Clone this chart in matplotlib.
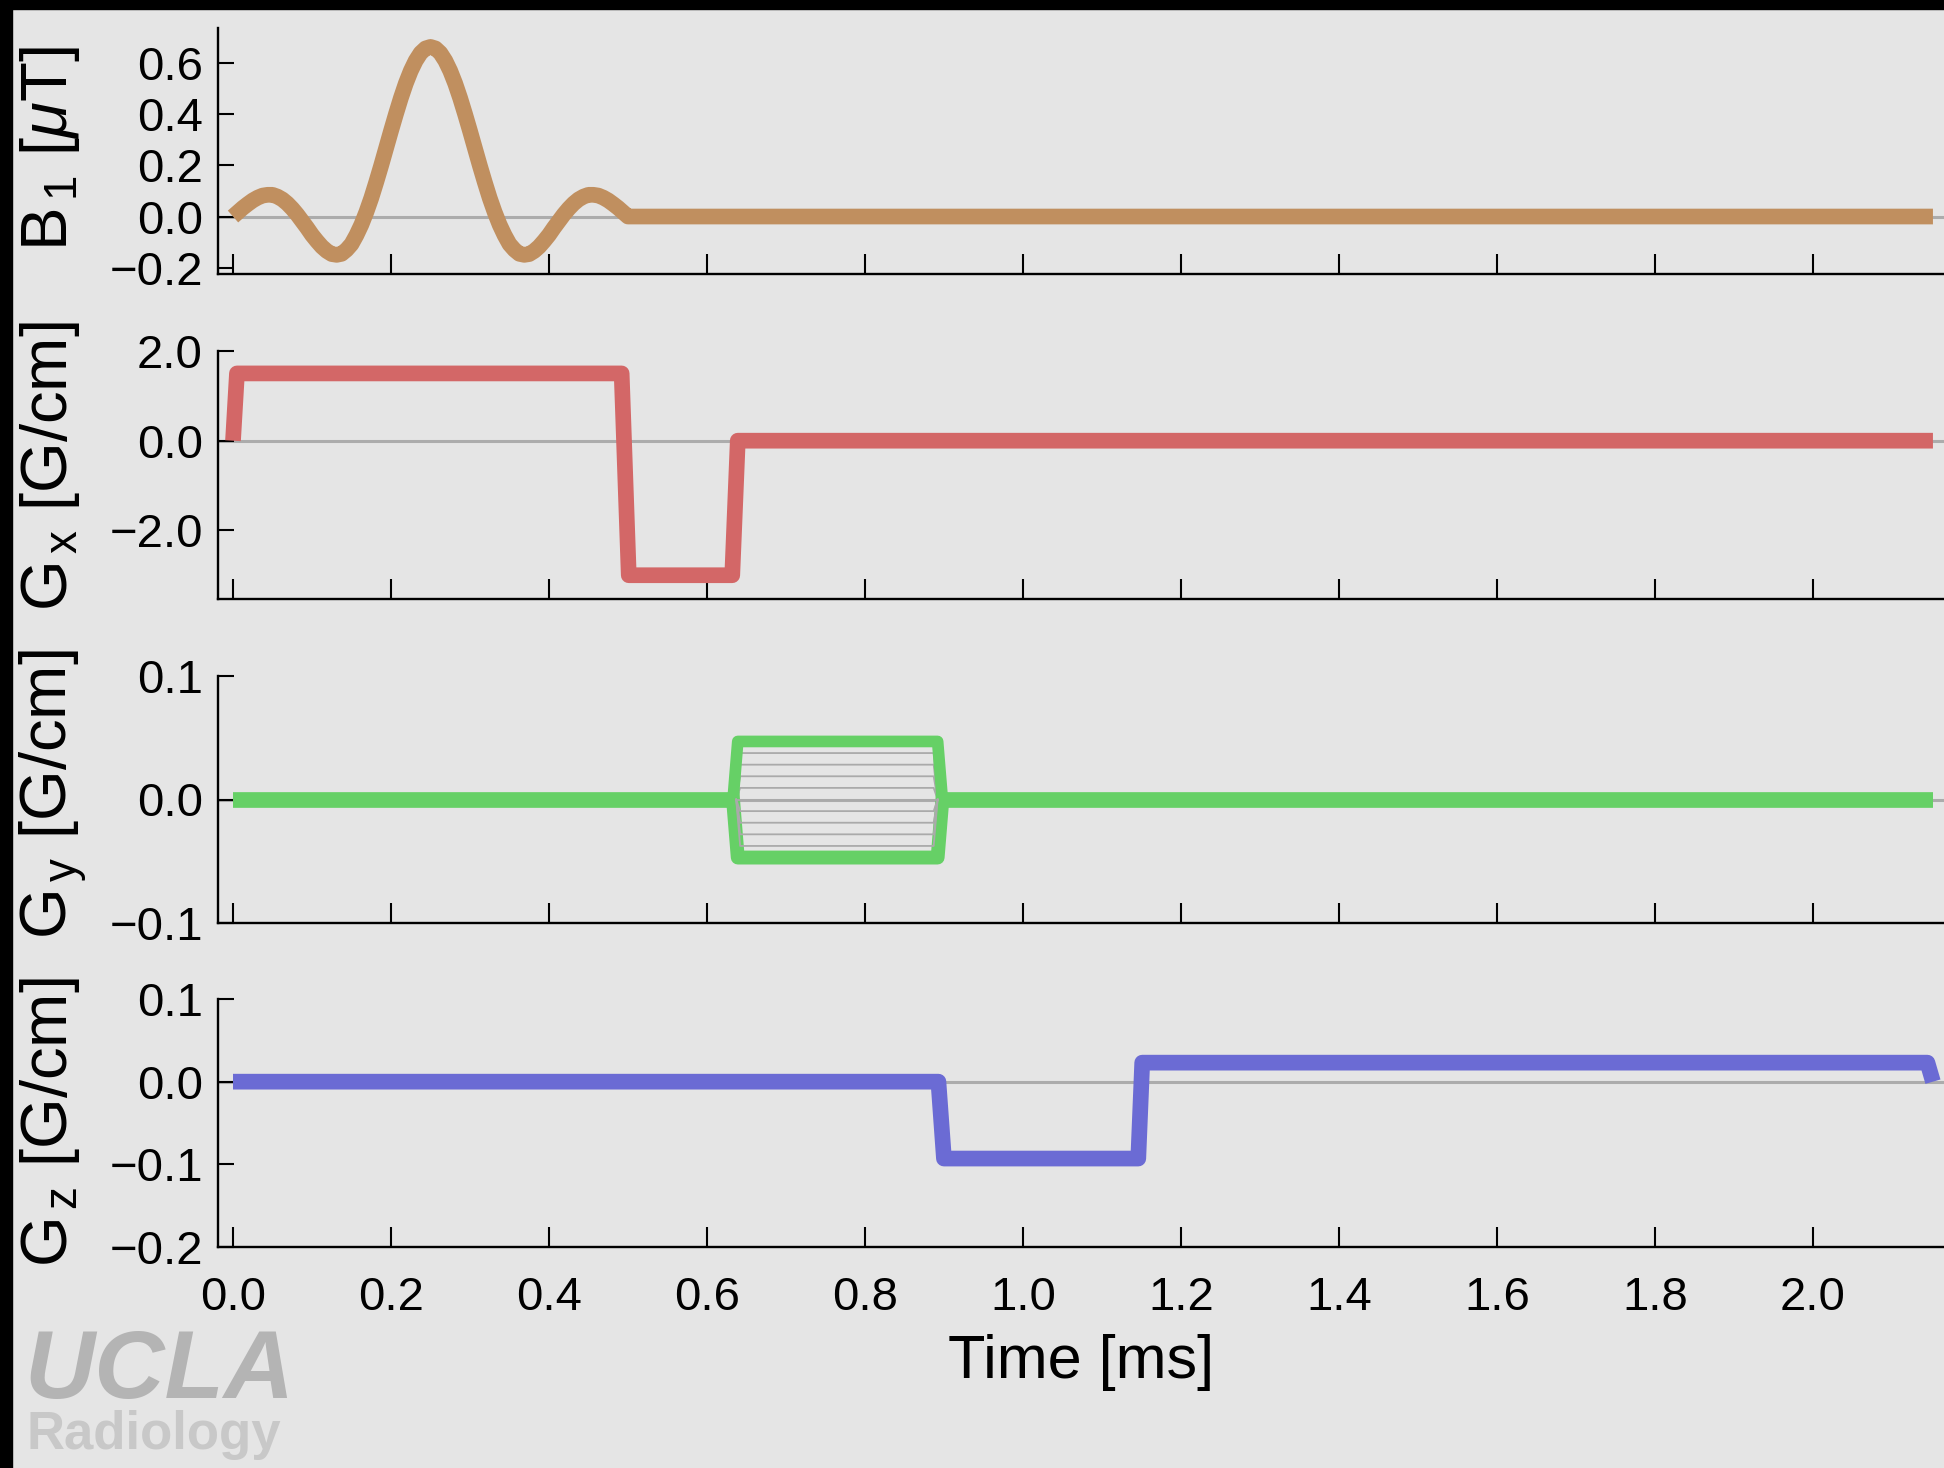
import matplotlib
matplotlib.use('Agg')
import matplotlib.pyplot as plt
from matplotlib.patches import Rectangle
from matplotlib.ticker import FixedLocator, FuncFormatter

# RF pulse (sinc lobes)
b1_t = [0.0, 0.00625, 0.0125, 0.01875, 0.025, 0.03125, 0.0375, 0.04375, 0.05, 0.05625,
        0.0625, 0.06875, 0.075, 0.08125, 0.0875, 0.09375, 0.1, 0.10625, 0.1125, 0.11875,
        0.125, 0.13125, 0.1375, 0.14375, 0.15, 0.15625, 0.1625, 0.16875, 0.175, 0.18125,
        0.1875, 0.19375, 0.2, 0.20625, 0.2125, 0.21875, 0.225, 0.23125, 0.2375, 0.24375,
        0.25,
        0.25625, 0.2625, 0.26875, 0.275, 0.28125, 0.2875, 0.29375, 0.3, 0.30625, 0.3125,
        0.31875, 0.325, 0.33125, 0.3375, 0.34375, 0.35, 0.35625, 0.3625, 0.36875, 0.375,
        0.38125, 0.3875, 0.39375, 0.4, 0.40625, 0.4125, 0.41875, 0.425, 0.43125, 0.4375,
        0.44375, 0.45, 0.45625, 0.4625, 0.46875, 0.475, 0.48125, 0.4875, 0.49375, 0.5,
        2.152]
b1_v = [0.0, 0.017, 0.034, 0.049, 0.063, 0.074, 0.082, 0.085, 0.085, 0.078,
        0.067, 0.051, 0.031, 0.008, -0.018, -0.044, -0.072, -0.096, -0.118, -0.135,
        -0.147, -0.150, -0.146, -0.130, -0.108, -0.073, -0.032, 0.017, 0.072, 0.134,
        0.199, 0.267, 0.335, 0.401, 0.464, 0.521, 0.570, 0.610, 0.640, 0.658,
        0.664,
        0.658, 0.640, 0.610, 0.570, 0.521, 0.464, 0.401, 0.335, 0.267, 0.199,
        0.134, 0.072, 0.017, -0.032, -0.073, -0.108, -0.130, -0.146, -0.150, -0.147,
        -0.135, -0.118, -0.096, -0.072, -0.044, -0.018, 0.008, 0.031, 0.051, 0.067,
        0.078, 0.085, 0.085, 0.082, 0.074, 0.063, 0.049, 0.034, 0.017, 0.0,
        0.0]

# readout / slice gradient
gx_t = [0.0, 0.005, 0.492, 0.501, 0.632, 0.639, 2.152]
gx_v = [0.0, 1.5, 1.5, -3.0, -3.0, 0.0, 0.0]

# phase encoding table
gy_t = [0.0, 0.633, 0.639, 0.892, 0.898, 2.152]
gy_max = [0.0, 0.0, 0.047, 0.047, 0.0, 0.0]
gy_min = [0.0, 0.0, -0.047, -0.047, 0.0, 0.0]
gy_step_t = [0.637, 0.642, 0.887, 0.892]
gy_steps = [0.0376, 0.0282, 0.0188, 0.0094, 0.0, -0.0094, -0.0188, -0.0282, -0.0376]

gz_t = [0.0, 0.893, 0.900, 1.146, 1.151, 2.145, 2.152]
gz_v = [0.0, 0.0, -0.093, -0.093, 0.023, 0.023, 0.0]

x_ticks = [0.0, 0.2, 0.4, 0.6, 0.8, 1.0, 1.2, 1.4, 1.6, 1.8, 2.0]
y_ticks = [[-0.2, 0.0, 0.2, 0.4, 0.6], [-2.0, 0.0, 2.0], [-0.1, 0.0, 0.1], [-0.2, -0.1, 0.0, 0.1]]
y_lims = [(-0.225, 0.738), (-3.53, 2.0), (-0.1, 0.1), (-0.2, 0.1)]
y_labels = [r'B$_{\,\mathrm{1}}$ [$\mu$T]', r'G$_{\,\mathrm{x}}$ [G/cm]',
            r'G$_{\,\mathrm{y}}$ [G/cm]', r'G$_{\,\mathrm{z}}$ [G/cm]']
label_y = [0.508, 0.535, 0.52, 0.504]

BG = '#e5e5e5'
FONT = ['Liberation Sans', 'DejaVu Sans']

plt.rcParams['mathtext.fontset'] = 'custom'
plt.rcParams['mathtext.rm'] = 'Liberation Sans'
plt.rcParams['mathtext.it'] = 'Liberation Sans:italic'
plt.rcParams['mathtext.bf'] = 'Liberation Sans:bold'
plt.rcParams['font.family'] = FONT

W, H = 1944, 1468
fig = plt.figure(figsize=(W / 100, H / 100), dpi=100, facecolor=BG)

# panel boxes in pixels (top, bottom)
boxes = [(28, 274), (351, 599), (676, 923), (999, 1247)]
left = 218
axes = []
for top, bot in boxes:
    ax = fig.add_axes([left / W, 1 - bot / H, (W - left) / W, (bot - top) / H])
    axes.append(ax)

def fmt(v, pos):
    s = '%.1f' % v
    if s == '-0.0':
        s = '0.0'
    return s.replace('-', '\u2212')

for i, ax in enumerate(axes):
    ax.set_facecolor(BG)
    ax.set_xlim(-0.019, 2.166)
    ax.set_ylim(*y_lims[i])
    for side in ['top', 'right']:
        ax.spines[side].set_visible(False)
    for side in ['left', 'bottom']:
        ax.spines[side].set_linewidth(1.7)
    ax.xaxis.set_major_locator(FixedLocator(x_ticks))
    ax.yaxis.set_major_locator(FixedLocator(y_ticks[i]))
    ax.yaxis.set_major_formatter(FuncFormatter(fmt))
    ax.xaxis.set_major_formatter(FuncFormatter(fmt))
    ax.tick_params(axis='x', direction='in', length=14.5, width=1.5, pad=21,
                   labelbottom=(i == 3), labelsize=34)
    ax.tick_params(axis='y', direction='in', length=11.5, width=1.5, pad=11, labelsize=34)
    ax.axhline(0, color='#acacac', lw=2.2, zorder=1)
    ax.set_ylabel(y_labels[i], fontsize=47, va='top')
    ax.yaxis.set_label_coords((18 - left) / (W - left), label_y[i])

axes[0].plot(b1_t, b1_v, color='#c08f5f', lw=11.3, solid_joinstyle='round',
             solid_capstyle='butt', zorder=3)
axes[1].plot(gx_t, gx_v, color='#d36767', lw=11.3, solid_joinstyle='round',
             solid_capstyle='butt', zorder=3)

# phase encode: gray steps, then green outer lines
for lev in gy_steps:
    axes[2].plot(gy_step_t, [0.0, lev, lev, 0.0], color='#aaaaaa', lw=1.3,
                 zorder=2 if lev > 0 else 4)
axes[2].plot(gy_t[:2], gy_max[:2], color='#66d066', lw=11.3, solid_capstyle='butt', zorder=3)
axes[2].plot(gy_t[-2:], gy_max[-2:], color='#66d066', lw=11.3, solid_capstyle='butt', zorder=3)
axes[2].plot(gy_t[1:-1], gy_max[1:-1], color='#66d066', lw=8.4, solid_joinstyle='round', zorder=3)
axes[2].plot(gy_t[1:-1], gy_min[1:-1], color='#66d066', lw=10.0, solid_joinstyle='round', zorder=3)

axes[3].plot(gz_t, gz_v, color='#6b6bd4', lw=11.3, solid_joinstyle='round',
             solid_capstyle='butt', zorder=3)
axes[3].set_xlabel('Time [ms]', fontsize=44, labelpad=10)

# logo
fig.text(24 / W, 1 - 1398 / H, 'UCLA', fontsize=70, fontweight='bold', fontstyle='italic',
         color='#b4b4b4', va='baseline', ha='left')
fig.text(26 / W, 1 - 1449 / H, 'Radiology', fontsize=38, fontweight='bold',
         color='#c8c8c8', va='baseline', ha='left')

# black frame bits at top and left
fig.add_artist(Rectangle((0, 1 - 9 / H), 1, 9 / H, transform=fig.transFigure,
                         color='black', zorder=10))
fig.add_artist(Rectangle((0, 0), 12 / W, 1, transform=fig.transFigure,
                         color='black', zorder=10))

fig.savefig('out.png', dpi=100, facecolor=BG)
